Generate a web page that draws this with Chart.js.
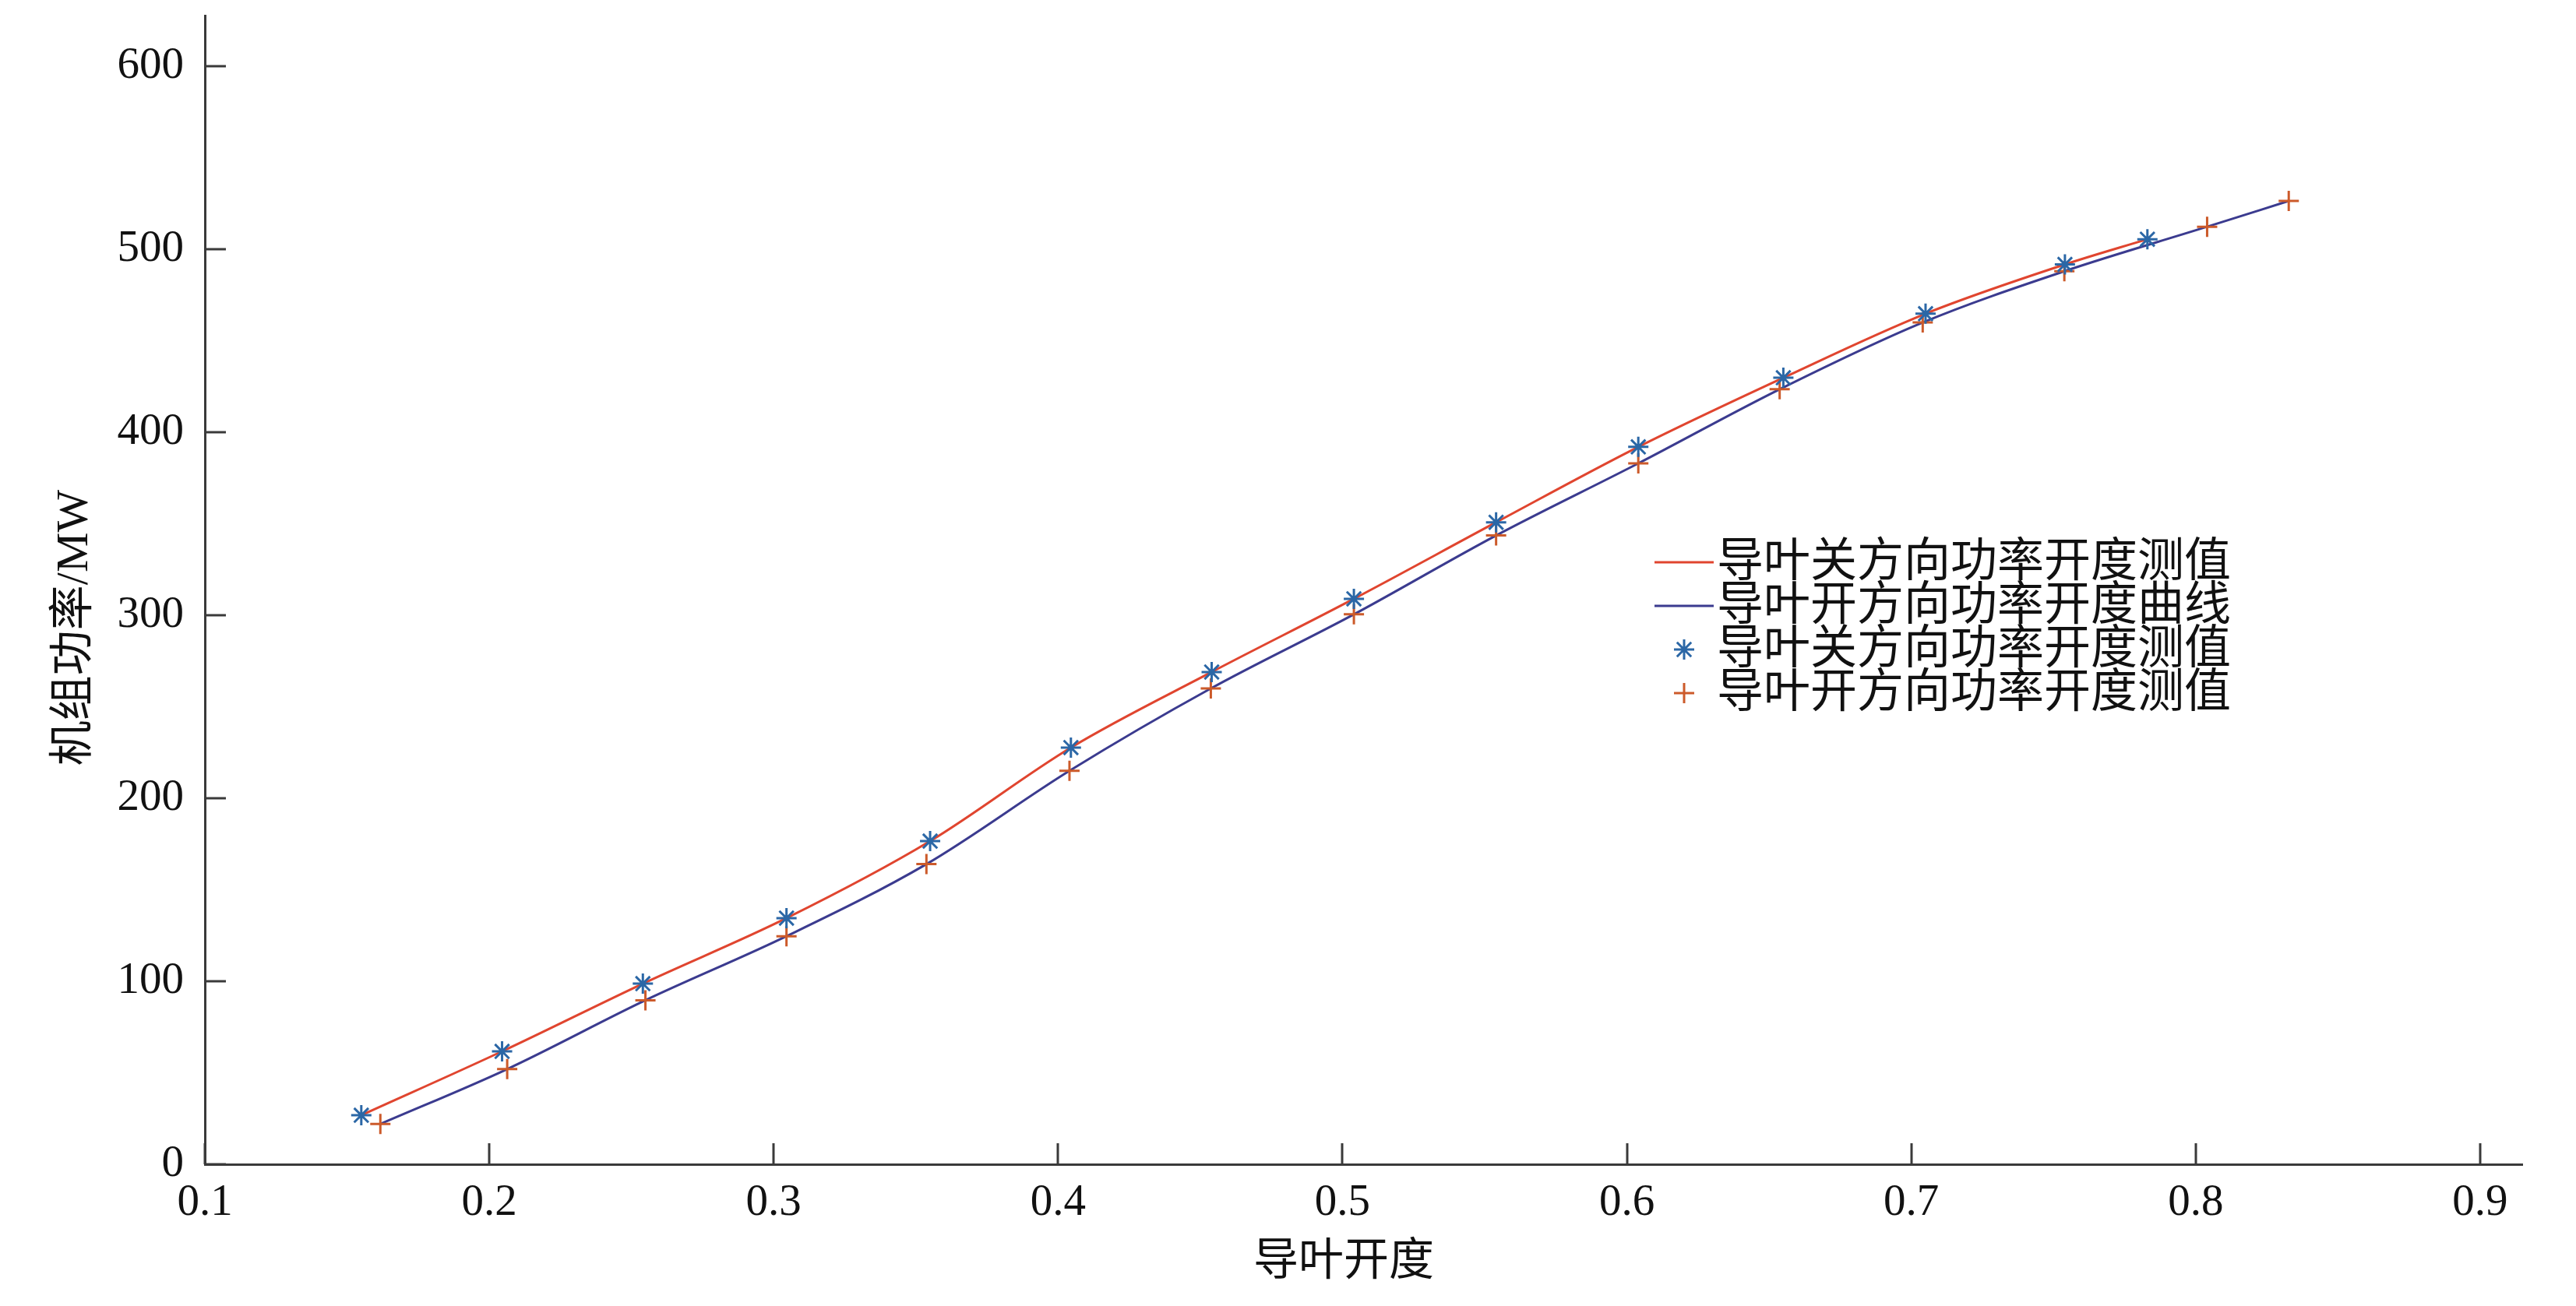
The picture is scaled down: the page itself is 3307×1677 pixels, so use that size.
<!DOCTYPE html>
<html>
<head>
<meta charset="utf-8">
<script src="https://cdn.jsdelivr.net/npm/chart.js@4/dist/chart.umd.min.js"></script>
<style>
  html, body { margin: 0; padding: 0; background: #ffffff; }
  #grafico { display: block; }
</style>
</head>
<body>
<canvas id="grafico" width="3307" height="1677"></canvas>
<script>
// dados
var fechoX = [0.155, 0.2045, 0.254, 0.3045, 0.355, 0.4045, 0.454, 0.504, 0.554, 0.604, 0.655, 0.705, 0.754, 0.783];
var fechoY = [26.8, 61.7, 98.7, 134.5, 176.6, 227.7, 269, 309, 350.8, 392, 429.8, 464.8, 491.7, 505.5];

var aberturaX = [0.1617, 0.2063, 0.2549, 0.3045, 0.3537, 0.404, 0.4537, 0.504, 0.554, 0.604, 0.6537, 0.704, 0.7538, 0.804, 0.8327];
var aberturaY = [22, 52, 89.6, 124.6, 164, 215, 260, 300.5, 343.6, 383, 423.5, 460, 488, 512.3, 526.4];

var ticksX = [0.1, 0.2, 0.3, 0.4, 0.5, 0.6, 0.7, 0.8, 0.9];
var ticksY = [0, 100, 200, 300, 400, 500, 600];

var rotulos = ['导叶关方向功率开度测值', '导叶开方向功率开度曲线', '导叶关方向功率开度测值', '导叶开方向功率开度测值'];
var tituloX = '导叶开度';
var tituloY = '机组功率/MW';

var fonte = '"Liberation Serif", "Noto Sans CJK SC", serif';
var corEixo = '#3a3a3a';

function pontos(xs, ys) {
    var res = [];
    for (var i = 0; i < xs.length; i++) {
        res.push({ x: xs[i], y: ys[i] });
    }
    return res;
}

// ticks para dentro, titulos dos eixos e legenda
var decoracao = {
    id: 'decoracao',
    afterDraw: function(chart) {
        var ctx = chart.ctx;
        var area = chart.chartArea;
        var sx = chart.scales.x;
        var sy = chart.scales.y;

        ctx.save();
        ctx.strokeStyle = corEixo;
        ctx.lineWidth = 3;
        ctx.beginPath();
        ticksX.forEach(function(v) {
            var px = Math.round(sx.getPixelForValue(v));
            ctx.moveTo(px, area.bottom);
            ctx.lineTo(px, area.bottom - 27);
        });
        ticksY.forEach(function(v) {
            var py = Math.round(sy.getPixelForValue(v));
            ctx.moveTo(area.left, py);
            ctx.lineTo(area.left + 27, py);
        });
        ctx.stroke();

        ctx.fillStyle = '#111111';
        ctx.font = '58px ' + fonte;
        ctx.textAlign = 'center';
        ctx.textBaseline = 'middle';
        ctx.fillText(tituloX, 1725, 1622);

        ctx.save();
        ctx.translate(97, 806);
        ctx.rotate(-Math.PI / 2);
        ctx.fillText(tituloY, 0, 0);
        ctx.restore();

        // legenda
        var lx = 2124, ly = 722, passo = 56;
        ctx.font = '60px ' + fonte;
        ctx.textAlign = 'left';
        chart.data.datasets.forEach(function(ds, i) {
            var y = ly + i * passo;
            if (ds.showLine) {
                ctx.strokeStyle = ds.borderColor;
                ctx.lineWidth = 3;
                ctx.beginPath();
                ctx.moveTo(lx, y);
                ctx.lineTo(lx + 76, y);
                ctx.stroke();
            } else {
                ctx.strokeStyle = ds.borderColor;
                ctx.lineWidth = ds.borderWidth;
                ctx.beginPath();
                if (ds.pointStyle === 'star') {
                    for (var k = 0; k < 4; k++) {
                        var a = k * Math.PI / 4;
                        ctx.moveTo(lx + 38 - Math.cos(a) * ds.pointRadius, y - Math.sin(a) * ds.pointRadius);
                        ctx.lineTo(lx + 38 + Math.cos(a) * ds.pointRadius, y + Math.sin(a) * ds.pointRadius);
                    }
                } else {
                    ctx.moveTo(lx + 38 - ds.pointRadius, y);
                    ctx.lineTo(lx + 38 + ds.pointRadius, y);
                    ctx.moveTo(lx + 38, y - ds.pointRadius);
                    ctx.lineTo(lx + 38, y + ds.pointRadius);
                }
                ctx.stroke();
            }
            ctx.fillStyle = '#111111';
            ctx.fillText(ds.label, lx + 80, y + 2);
        });
        ctx.restore();
    }
};

var dados = {
    datasets: [{
        label: rotulos[0],
        data: pontos(fechoX, fechoY),
        showLine: true,
        borderColor: '#e0452f',
        borderWidth: 3,
        pointRadius: 0,
        cubicInterpolationMode: 'monotone',
        order: 2
    }, {
        label: rotulos[1],
        data: pontos(aberturaX, aberturaY),
        showLine: true,
        borderColor: '#3b3b8f',
        borderWidth: 3,
        pointRadius: 0,
        cubicInterpolationMode: 'monotone',
        order: 2
    }, {
        label: rotulos[2],
        data: pontos(fechoX, fechoY),
        showLine: false,
        pointStyle: 'star',
        pointRadius: 13,
        borderWidth: 3,
        borderColor: '#2b67a6',
        backgroundColor: '#2b67a6',
        order: 1
    }, {
        label: rotulos[3],
        data: pontos(aberturaX, aberturaY),
        showLine: false,
        pointStyle: 'cross',
        pointRadius: 13,
        borderWidth: 3,
        borderColor: '#cc5a2a',
        backgroundColor: '#cc5a2a',
        order: 1
    }]
};

var opcoes = {
    responsive: false,
    animation: false,
    layout: { padding: { left: 0, top: 20, right: 69, bottom: 0 } },
    plugins: {
        legend: { display: false },
        tooltip: { enabled: false }
    },
    scales: {
        x: {
            type: 'linear',
            min: 0.1,
            max: 0.9148,
            afterFit: function(s) {
                s.height = 182;
                s.paddingLeft = 0;
                s.paddingRight = 0;
            },
            afterBuildTicks: function(s) { s.ticks = ticksX.map(function(v) { return { value: v }; }); },
            grid: { drawOnChartArea: false, drawTicks: false },
            border: { display: true, color: corEixo, width: 3 },
            ticks: {
                padding: 16,
                color: '#111111',
                font: { family: fonte, size: 57 },
                maxRotation: 0,
                callback: function(v) { return String(Math.round(v * 10) / 10); }
            }
        },
        y: {
            type: 'linear',
            min: 0,
            max: 627.7,
            afterFit: function(s) {
                s.width = 263;
                s.paddingTop = 0;
                s.paddingBottom = 0;
            },
            afterBuildTicks: function(s) { s.ticks = ticksY.map(function(v) { return { value: v }; }); },
            grid: { drawOnChartArea: false, drawTicks: false },
            border: { display: true, color: corEixo, width: 3 },
            ticks: {
                padding: 27,
                color: '#111111',
                font: { family: fonte, size: 57 },
                callback: function(v) { return String(v); }
            }
        }
    }
};

var ctx = document.getElementById('grafico').getContext('2d');
var meuGrafico = new Chart(ctx, {
    type: 'scatter',
    data: dados,
    options: opcoes,
    plugins: [decoracao]
});
</script>
</body>
</html>
